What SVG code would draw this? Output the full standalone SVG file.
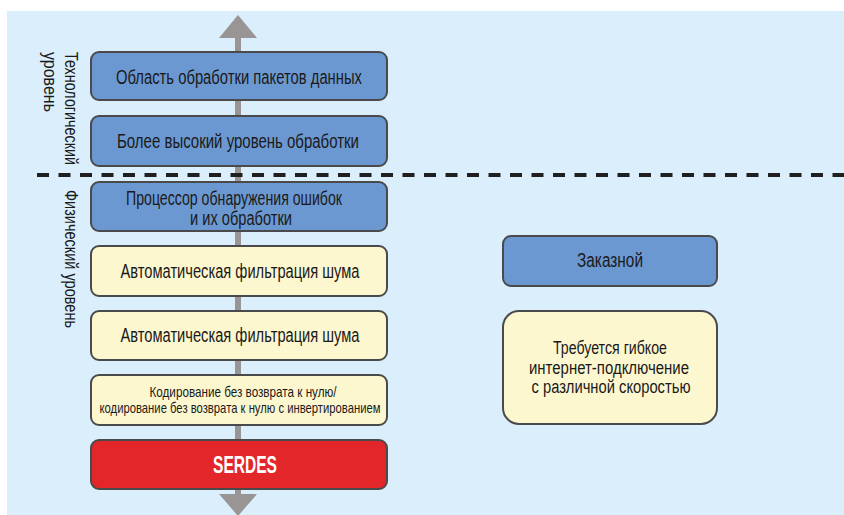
<svg xmlns="http://www.w3.org/2000/svg" width="844" height="515" viewBox="0 0 844 515">
  <defs>
    <style>
      .box { stroke: #4a4a4c; stroke-width: 2; }
      .blue { fill: #6c98d1; }
      .yellow { fill: #fdf7cf; }
      .red { fill: #e3262a; }
      .t { font-family: "Liberation Sans", Arial, sans-serif; fill: #1a1a1a; text-anchor: middle; }
      .s { font-family: "Liberation Sans", Arial, sans-serif; fill: #1a1a1a; text-anchor: start; font-size: 18px; }
      .big { font-size: 19.5px; }
      .mid { font-size: 18px; }
      .small { font-size: 15px; }
      .serdes { font-size: 23px; font-weight: bold; fill: #ffffff; }
      .shaft { stroke: #9a9595; stroke-width: 6; fill: none; }
      .head { fill: #9a9595; }
    </style>
  </defs>
  <rect x="0" y="0" width="844" height="515" fill="#ffffff"/>
  <rect x="7" y="11" width="837" height="504" fill="#daeefb"/>

  <g id="connectors">
    <line class="shaft" x1="238" y1="34" x2="238" y2="497"/>
    <polygon class="head" points="238,15 257,38 219,38"/>
    <polygon class="head" points="219,494 257,494 238,516"/>
    <line x1="37" y1="175" x2="844" y2="175" stroke="#1f1f1f" stroke-width="4" stroke-dasharray="12 9.5"/>
  </g>

  <g id="label-tech">
    <text class="s" transform="translate(65,52) rotate(90)" textLength="113" lengthAdjust="spacingAndGlyphs">Технологический</text>
    <text class="s" transform="translate(44,52) rotate(90)" textLength="60" lengthAdjust="spacingAndGlyphs">уровень</text>
  </g>
  <g id="label-phys">
    <text class="s" transform="translate(65,190) rotate(90)" textLength="138" lengthAdjust="spacingAndGlyphs">Физический уровень</text>
  </g>

  <g id="node-packets">
    <rect class="box blue" x="91" y="52" width="296" height="48" rx="8"/>
    <text class="t big" x="239" y="84" textLength="246" lengthAdjust="spacingAndGlyphs">Область обработки пакетов данных</text>
  </g>
  <g id="node-higher">
    <rect class="box blue" x="91" y="116" width="296" height="50" rx="8"/>
    <text class="t big" x="238" y="148" textLength="242" lengthAdjust="spacingAndGlyphs">Более высокий уровень обработки</text>
  </g>
  <g id="node-error">
    <rect class="box blue" x="91" y="182" width="296" height="49" rx="8"/>
    <text class="t big" x="234" y="205" textLength="216" lengthAdjust="spacingAndGlyphs">Процессор обнаружения ошибок</text>
    <text class="t big" x="241" y="225" textLength="102" lengthAdjust="spacingAndGlyphs">и их обработки</text>
  </g>
  <g id="node-filter1">
    <rect class="box yellow" x="91" y="246" width="296" height="50" rx="8"/>
    <text class="t big" x="240" y="278" textLength="239" lengthAdjust="spacingAndGlyphs">Автоматическая фильтрация шума</text>
  </g>
  <g id="node-filter2">
    <rect class="box yellow" x="91" y="311" width="296" height="49" rx="8"/>
    <text class="t big" x="240" y="342" textLength="239" lengthAdjust="spacingAndGlyphs">Автоматическая фильтрация шума</text>
  </g>
  <g id="node-nrz">
    <rect class="box yellow" x="91" y="375" width="296" height="50" rx="8"/>
    <text class="t small" x="243" y="397" textLength="187" lengthAdjust="spacingAndGlyphs">Кодирование без возврата к нулю/</text>
    <text class="t small" x="240" y="413" textLength="281" lengthAdjust="spacingAndGlyphs">кодирование без возврата к нулю с инвертированием</text>
  </g>
  <g id="node-serdes">
    <rect class="box red" x="91" y="440" width="296" height="49" rx="8"/>
    <text class="t serdes" x="245" y="473" textLength="64" lengthAdjust="spacingAndGlyphs">SERDES</text>
  </g>

  <g id="node-custom">
    <rect class="box blue" x="503" y="236" width="214" height="50" rx="8"/>
    <text class="t big" x="610" y="267" textLength="66" lengthAdjust="spacingAndGlyphs">Заказной</text>
  </g>
  <g id="node-flex">
    <rect class="box yellow" x="503" y="311" width="214" height="113" rx="16"/>
    <text class="t mid" x="610" y="354" textLength="114" lengthAdjust="spacingAndGlyphs">Требуется гибкое</text>
    <text class="t mid" x="609" y="374" textLength="160" lengthAdjust="spacingAndGlyphs">интернет-подключение</text>
    <text class="t mid" x="611" y="393" textLength="159" lengthAdjust="spacingAndGlyphs">с различной скоростью</text>
  </g>
</svg>
